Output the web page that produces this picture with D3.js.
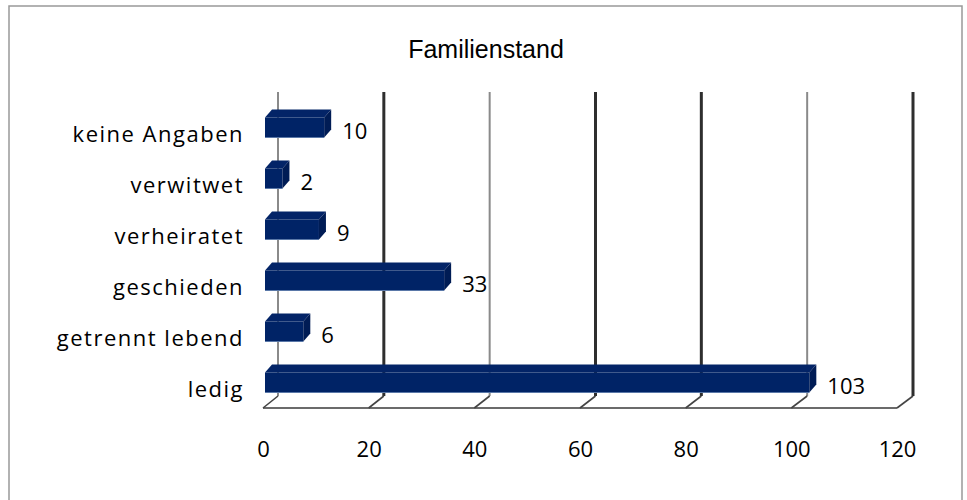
<!DOCTYPE html>
<html>
<head>
<meta charset="utf-8">
<script src="https://cdn.jsdelivr.net/npm/d3@7"></script>
<style>
  body { margin: 0; background: #fff; }
  svg { display: block; }
  .tick text { fill: #000; }
</style>
</head>
<body>
<script>
// data
const categories = ["keine Angaben", "verwitwet", "verheiratet", "geschieden", "getrennt lebend", "ledig"];
const values = [10, 2, 9, 33, 6, 103];
const tickValues = [0, 20, 40, 60, 80, 100, 120];

const width = 967, height = 500;
const depthX = 7, depthY = 8;   // bar bevel
const faceH = 20;

let svg = d3.select("body").append("svg")
  .attr("width", width)
  .attr("height", height);

// outer frame
svg.append("rect")
  .attr("x", 9).attr("y", 6)
  .attr("width", 953).attr("height", 520)
  .attr("fill", "none")
  .attr("stroke", "#999")
  .attr("stroke-width", 1.5);

svg.append("text")
  .attr("x", 486).attr("y", 58)
  .attr("text-anchor", "middle")
  .style("font-family", "Liberation Sans, Arial, sans-serif")
  .style("font-size", "25px")
  .text("Familienstand");

// front edge of floor, back wall, and bar depth each get their own scale
let xFront = d3.scaleLinear().domain([0, 120]).range([263, 897]);
let xBack = d3.scaleLinear().domain([0, 120]).range([278, 913]);
let xBar = d3.scaleLinear().domain([0, 120]).range([272, 898]);

let y = d3.scaleBand().domain(categories).range([102, 408]).padding(0);

const floorFront = 408, floorBack = 396, wallTop = 92;
const darkTicks = [20, 60, 80, 120];

// gridlines on back wall
svg.selectAll("line.grid")
  .data(tickValues)
  .enter().append("line")
  .attr("class", "grid")
  .attr("x1", d => xBack(d)).attr("x2", d => xBack(d))
  .attr("y1", wallTop).attr("y2", floorBack)
  .attr("stroke", d => darkTicks.includes(d) ? "#2e2e2e" : "#8a8a8a")
  .attr("stroke-width", d => darkTicks.includes(d) ? 3 : 2);

// floor: front edge + diagonals
svg.append("line")
  .attr("x1", xFront(0)).attr("x2", xFront(120))
  .attr("y1", floorFront).attr("y2", floorFront)
  .attr("stroke", "#6b6b6b").attr("stroke-width", 2);

svg.selectAll("line.floor")
  .data(tickValues)
  .enter().append("line")
  .attr("class", "floor")
  .attr("x1", d => xFront(d)).attr("y1", floorFront)
  .attr("x2", d => xBack(d)).attr("y2", floorBack)
  .attr("stroke", "#444").attr("stroke-width", 1.6);

// bars
let bars = svg.selectAll("g.bar")
  .data(values)
  .enter().append("g")
  .attr("class", "bar");

const x0 = xBar(0) - depthX;
const yc = (d, i) => y(categories[i]) + y.bandwidth() / 2;

bars.append("rect")
  .attr("x", x0)
  .attr("y", (d, i) => yc(d, i) - faceH / 2)
  .attr("width", d => xBar(d) - x0)
  .attr("height", faceH)
  .attr("fill", "#002366");

bars.append("path")
  .attr("d", (d, i) => {
    let t = yc(d, i) - faceH / 2, xe = xBar(d);
    return `M${x0},${t}L${x0 + depthX},${t - depthY}L${xe + depthX},${t - depthY}L${xe},${t}Z`;
  })
  .attr("fill", "#032467");

bars.append("path")
  .attr("d", (d, i) => {
    let t = yc(d, i) - faceH / 2, b = t + faceH, xe = xBar(d);
    return `M${xe},${t}L${xe + depthX},${t - depthY}L${xe + depthX},${b - depthY}L${xe},${b}Z`;
  })
  .attr("fill", "#001c55");

bars.append("line")
  .attr("x1", x0).attr("x2", d => xBar(d))
  .attr("y1", (d, i) => yc(d, i) + faceH / 2)
  .attr("y2", (d, i) => yc(d, i) + faceH / 2)
  .attr("stroke", "#5a78a8").attr("stroke-width", 1);

// value labels
bars.append("text")
  .attr("x", d => xBar(d) + depthX + 11)
  .attr("y", (d, i) => yc(d, i) + 11)
  .style("font-family", "Open Sans, sans-serif")
  .style("font-size", "22px")
  .text(d => d);

// x axis labels
svg.append("g")
  .attr("transform", "translate(0,441)")
  .call(d3.axisBottom(xFront).tickValues(tickValues).tickSize(0).tickPadding(0))
  .call(g => g.select(".domain").remove())
  .selectAll("text")
  .style("font-family", "Open Sans, sans-serif")
  .style("font-size", "22px");

// category labels
svg.append("g")
  .attr("transform", "translate(251,7)")
  .call(d3.axisLeft(y).tickSize(0).tickPadding(7))
  .call(g => g.select(".domain").remove())
  .selectAll("text")
  .style("font-family", "Open Sans, sans-serif")
  .style("font-size", "22px")
  .style("letter-spacing", "1.5px");
</script>
</body>
</html>
